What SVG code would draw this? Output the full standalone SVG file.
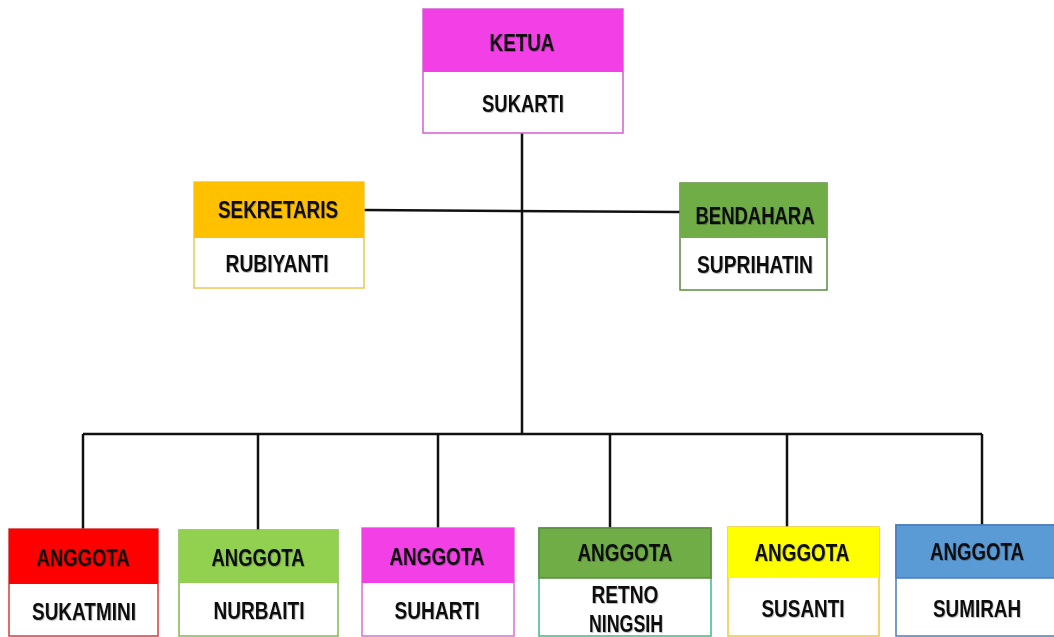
<svg xmlns="http://www.w3.org/2000/svg" width="1054" height="637" viewBox="0 0 1054 637">
<style>
.t{font-family:"Liberation Sans",Arial,sans-serif;font-weight:bold;font-size:24px;fill:#111;text-anchor:middle}
.box{fill:#fff;stroke-width:1.5}
.ln{stroke:#111;stroke-width:2.5;fill:none}
</style>
<defs>
<filter id="sh" x="-10%" y="-20%" width="120%" height="150%">
<feDropShadow dx="0.8" dy="1" stdDeviation="0.7" flood-color="#000" flood-opacity="0.25"/>
</filter>
</defs>
<rect width="1054" height="637" fill="#fff"/>
<g id="connectors">
<line class="ln" x1="522" y1="133" x2="522" y2="435"/>
<line class="ln" x1="364" y1="210" x2="680" y2="212"/>
<line class="ln" x1="83" y1="434" x2="982" y2="434"/>
<line class="ln" x1="83" y1="434" x2="83" y2="529"/>
<line class="ln" x1="258" y1="434" x2="258" y2="530"/>
<line class="ln" x1="438" y1="434" x2="438" y2="528"/>
<line class="ln" x1="610" y1="434" x2="610" y2="528"/>
<line class="ln" x1="787" y1="434" x2="787" y2="527"/>
<line class="ln" x1="982" y1="434" x2="982" y2="525"/>
</g>
<g id="ketua">
<rect class="box" x="423" y="9" width="200" height="124" stroke="#D55FD5"/>
<rect x="423" y="9" width="200" height="63" fill="#F23FE6"/>
<text class="t" x="522" y="51" textLength="65" lengthAdjust="spacingAndGlyphs" filter="url(#sh)">KETUA</text>
<text class="t" x="523" y="112" textLength="82" lengthAdjust="spacingAndGlyphs" filter="url(#sh)">SUKARTI</text>
</g>
<g id="sekretaris">
<rect class="box" x="194" y="182" width="170" height="106" stroke="#EBC850"/>
<rect x="194" y="182" width="170" height="56" fill="#FFC000"/>
<text class="t" x="278" y="218" textLength="120" lengthAdjust="spacingAndGlyphs" filter="url(#sh)">SEKRETARIS</text>
<text class="t" x="277" y="272" textLength="103" lengthAdjust="spacingAndGlyphs" filter="url(#sh)">RUBIYANTI</text>
</g>
<g id="bendahara">
<rect class="box" x="680" y="183" width="147" height="107" stroke="#5B8C3E"/>
<rect x="680" y="183" width="147" height="55" fill="#70AD47"/>
<text class="t" x="755" y="224" textLength="119" lengthAdjust="spacingAndGlyphs" filter="url(#sh)">BENDAHARA</text>
<text class="t" x="755" y="273" textLength="116" lengthAdjust="spacingAndGlyphs" filter="url(#sh)">SUPRIHATIN</text>
</g>
<g id="anggota1">
<rect class="box" x="9" y="529" width="149" height="107" stroke="#D83A3A"/>
<rect x="9" y="529" width="149" height="55" fill="#FF0000"/>
<text class="t" x="83" y="566" textLength="93" lengthAdjust="spacingAndGlyphs" filter="url(#sh)">ANGGOTA</text>
<text class="t" x="84" y="620" textLength="104" lengthAdjust="spacingAndGlyphs" filter="url(#sh)">SUKATMINI</text>
</g>
<g id="anggota2">
<rect class="box" x="179" y="530" width="159" height="106" stroke="#7DBB4E"/>
<rect x="179" y="530" width="159" height="53" fill="#92D050"/>
<text class="t" x="258" y="566" textLength="93" lengthAdjust="spacingAndGlyphs" filter="url(#sh)">ANGGOTA</text>
<text class="t" x="259" y="619" textLength="91" lengthAdjust="spacingAndGlyphs" filter="url(#sh)">NURBAITI</text>
</g>
<g id="anggota3">
<rect class="box" x="362" y="528" width="152" height="108" stroke="#D66FD6"/>
<rect x="362" y="528" width="152" height="55" fill="#F23FE6"/>
<text class="t" x="437" y="565" textLength="95" lengthAdjust="spacingAndGlyphs" filter="url(#sh)">ANGGOTA</text>
<text class="t" x="437" y="619" textLength="85" lengthAdjust="spacingAndGlyphs" filter="url(#sh)">SUHARTI</text>
</g>
<g id="anggota4">
<rect class="box" x="539" y="528" width="172" height="108" stroke="#3DBB8A"/>
<rect x="539" y="528" width="172" height="50" fill="#70AD47" stroke="#5B8C3E" stroke-width="1.5"/>
<text class="t" x="625" y="561" textLength="95" lengthAdjust="spacingAndGlyphs" filter="url(#sh)">ANGGOTA</text>
<text class="t" x="625" y="603" textLength="67" lengthAdjust="spacingAndGlyphs" filter="url(#sh)">RETNO</text>
<text class="t" x="626" y="632" textLength="74" lengthAdjust="spacingAndGlyphs" filter="url(#sh)">NINGSIH</text>
</g>
<g id="anggota5">
<rect class="box" x="728" y="527" width="151" height="109" stroke="#F0C63A"/>
<rect x="728" y="527" width="151" height="51" fill="#FFFF00"/>
<text class="t" x="802" y="561" textLength="95" lengthAdjust="spacingAndGlyphs" filter="url(#sh)">ANGGOTA</text>
<text class="t" x="803" y="617" textLength="83" lengthAdjust="spacingAndGlyphs" filter="url(#sh)">SUSANTI</text>
</g>
<g id="anggota6">
<rect class="box" x="896" y="525" width="160" height="111" stroke="#4A7CC0"/>
<rect x="896" y="525" width="160" height="53" fill="#5B9BD5" stroke="#4A7CC0" stroke-width="1.5"/>
<text class="t" x="977" y="560" textLength="94" lengthAdjust="spacingAndGlyphs" filter="url(#sh)">ANGGOTA</text>
<text class="t" x="977" y="617" textLength="88" lengthAdjust="spacingAndGlyphs" filter="url(#sh)">SUMIRAH</text>
</g>
</svg>
